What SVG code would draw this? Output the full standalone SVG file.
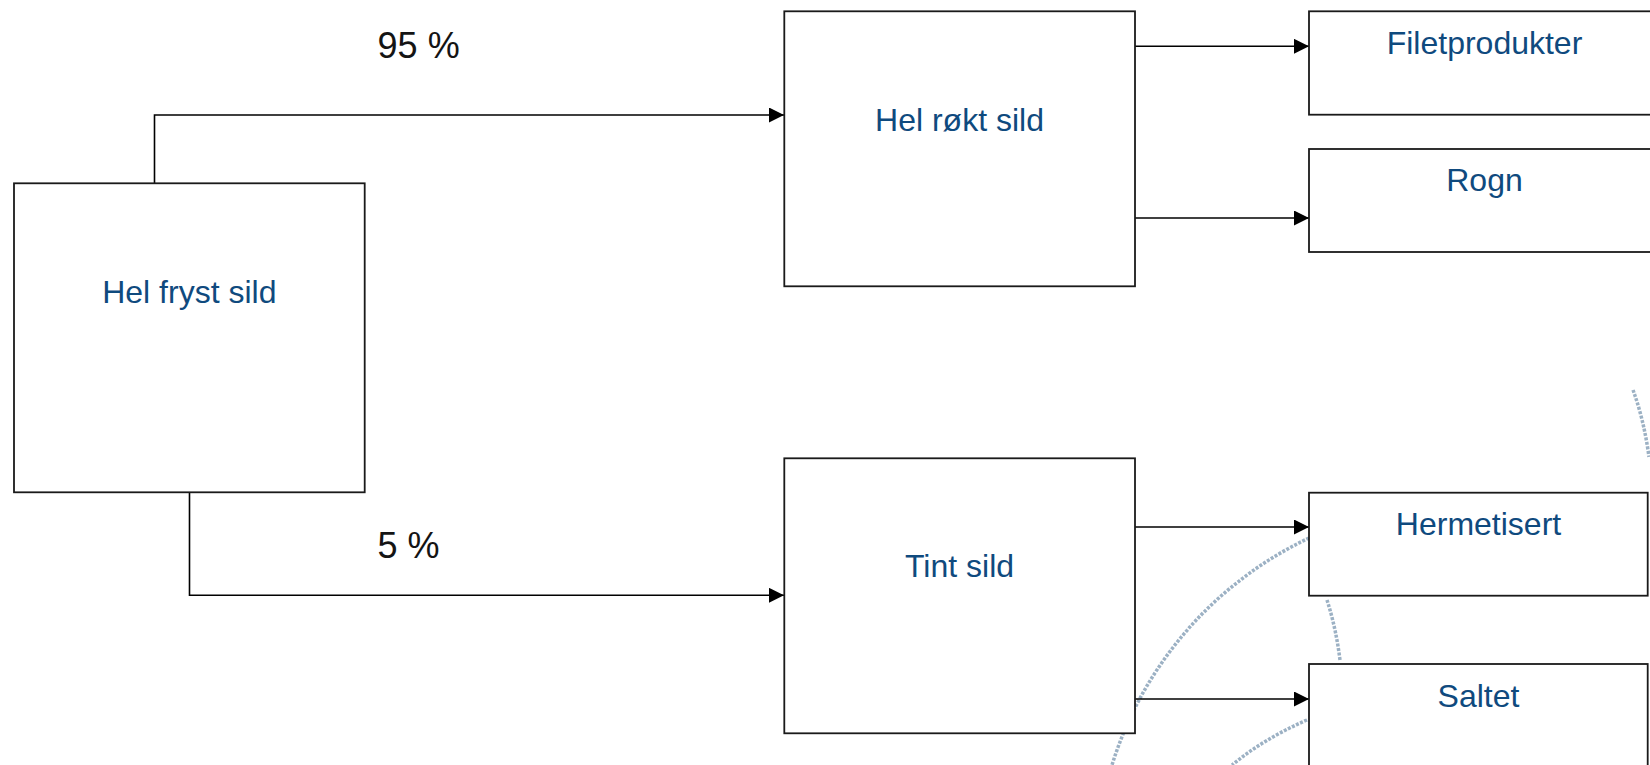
<svg xmlns="http://www.w3.org/2000/svg" width="1650" height="765" viewBox="0 0 1650 765">
<style>
.box{fill:#ffffff;stroke:#1a1a1a;stroke-width:1.8}
.lbl{font-family:"Liberation Sans",Arial,sans-serif;font-size:32px;fill:#0f4a7e;text-anchor:middle}
.pct{font-family:"Liberation Sans",Arial,sans-serif;font-size:36px;fill:#141414}
.conn{fill:none;stroke:#000000;stroke-width:1.6}
.deco{fill:none;stroke:#9cb1c4;stroke-width:3.5;stroke-dasharray:3 1.5}
</style>
<defs>
<marker id="arr" viewBox="0 0 15 15" refX="15" refY="7.5" markerWidth="15" markerHeight="15" markerUnits="userSpaceOnUse" orient="auto">
<path d="M0,0 L15,7.5 L0,15 z" fill="#000000"/>
</marker>
</defs>
<rect width="1650" height="765" fill="#ffffff"/>
<g id="watermark">
<path class="deco" d="M1309,538 A373,373 0 0 0 1112,765"/>
<path class="deco" d="M1327,600 Q1336,628 1340,660"/>
<path class="deco" d="M1307,720 Q1265,738 1232,765"/>
<path class="deco" d="M1633,390 Q1644,420 1649,457"/>
</g>
<g id="connectors">
<path class="conn" d="M154.5,183 V115 H784" marker-end="url(#arr)"/>
<path class="conn" d="M189.5,492 V595.3 H784" marker-end="url(#arr)"/>
<path class="conn" d="M1135,46.3 H1309" marker-end="url(#arr)"/>
<path class="conn" d="M1135,218 H1309" marker-end="url(#arr)"/>
<path class="conn" d="M1135,527 H1309" marker-end="url(#arr)"/>
<path class="conn" d="M1135,699 H1309" marker-end="url(#arr)"/>
</g>
<g id="label-95">
<text class="pct" x="377.6" y="58.3">95 %</text>
</g>
<g id="label-5">
<text class="pct" x="377.6" y="558.3">5 %</text>
</g>
<g id="hel-fryst-sild">
<rect class="box" x="14" y="183.3" width="350.7" height="309"/>
<text class="lbl" x="189.3" y="302.7">Hel fryst sild</text>
</g>
<g id="hel-rokt-sild">
<rect class="box" x="784.3" y="11.3" width="350.7" height="275"/>
<text class="lbl" x="959.5" y="130.7">Hel røkt sild</text>
</g>
<g id="tint-sild">
<rect class="box" x="784.3" y="458.3" width="350.7" height="275"/>
<text class="lbl" x="959.5" y="576.7">Tint sild</text>
</g>
<g id="filetprodukter">
<rect class="box" x="1309" y="11.3" width="351" height="103.4"/>
<text class="lbl" x="1484.5" y="54.3">Filetprodukter</text>
</g>
<g id="rogn">
<rect class="box" x="1309" y="149" width="351" height="103"/>
<text class="lbl" x="1484.5" y="191">Rogn</text>
</g>
<g id="hermetisert">
<rect class="box" x="1309" y="492.7" width="338.7" height="103"/>
<text class="lbl" x="1478.5" y="535">Hermetisert</text>
</g>
<g id="saltet">
<rect class="box" x="1309" y="664" width="338.7" height="110"/>
<text class="lbl" x="1478.5" y="706.7">Saltet</text>
</g>
</svg>
